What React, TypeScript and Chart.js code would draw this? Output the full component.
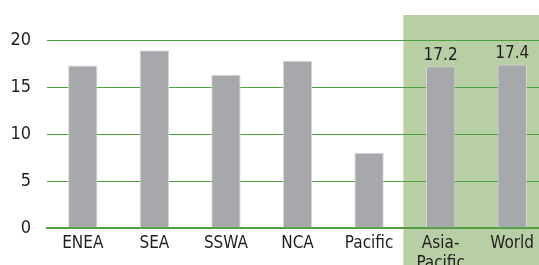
import React, { useEffect, useRef } from "react";
import { Chart, registerables } from "chart.js";

Chart.register(...registerables);

const categories: (string | string[])[] = ["ENEA", "SEA", "SSWA", "NCA", "Pacific", ["Asia-", "Pacific"], "World"];
const values: number[] = [17.3, 18.9, 16.3, 17.8, 8.0, 17.2, 17.4];
const valueLabels: string[] = ["", "", "", "", "", "17.2", "17.4"];
const yTicks: number[] = [0, 5, 10, 15, 20];
const highlightFrom = 5; // first highlighted category index

const FONT = "'DejaVu Sans Condensed', 'Liberation Sans Narrow', 'Liberation Sans', Arial, sans-serif";
const TEXT = "#231f20";
const GREEN = "#4f9e3f";

const shadePlugin = {
  id: "shade",
  beforeDraw(chart: any) {
    const { ctx, chartArea, scales } = chart;
    const x = scales.x;
    const left = (x.getPixelForTick(highlightFrom - 1) + x.getPixelForTick(highlightFrom)) / 2 - 1.5;
    ctx.save();
    ctx.fillStyle = "#b8cfa6";
    ctx.fillRect(left, chartArea.top - 25, chart.width - left, chart.height - (chartArea.top - 25));
    ctx.restore();
  },
};

const labelPlugin = {
  id: "valueLabels",
  afterDatasetsDraw(chart: any) {
    const { ctx } = chart;
    const meta = chart.getDatasetMeta(0);
    ctx.save();
    ctx.font = `17px ${FONT}`;
    ctx.fillStyle = TEXT;
    ctx.textAlign = "center";
    ctx.textBaseline = "middle";
    meta.data.forEach((bar: any, i: number) => {
      if (!valueLabels[i]) return;
      ctx.fillText(valueLabels[i], bar.x, bar.y - 11);
    });
    ctx.restore();
  },
};

export default function App() {
  const ref = useRef<HTMLCanvasElement | null>(null);
  useEffect(() => {
    document.body.style.margin = "0";
    document.body.style.overflow = "hidden";
    const chart = new Chart(ref.current!, {
      type: "bar",
      data: {
        labels: categories,
        datasets: [
          {
            data: values,
            backgroundColor: "#a7a8ac",
            borderColor: "#d6d6d9",
            borderWidth: 1,
            barPercentage: 0.41,
            categoryPercentage: 1,
          },
        ],
      },
      options: {
        responsive: false,
        animation: false,
        layout: { padding: { top: 40, left: 0, right: 0, bottom: 0 } },
        plugins: { legend: { display: false }, tooltip: { enabled: false } },
        scales: {
          x: {
            grid: { display: false, drawTicks: false },
            border: { display: true, color: GREEN, width: 2 },
            ticks: {
              color: TEXT,
              font: { family: FONT, size: 17, lineHeight: 1.15 },
              padding: 6,
              maxRotation: 0,
              autoSkip: false,
            },
            afterFit(scale: any) {
              scale.height = 37;
            },
          },
          y: {
            min: 0,
            max: 20,
            afterBuildTicks(scale: any) {
              scale.ticks = yTicks.map((v) => ({ value: v }));
            },
            grid: {
              color: GREEN,
              lineWidth: 1,
              drawTicks: false,
            },
            border: { display: false },
            ticks: {
              color: TEXT,
              font: { family: FONT, size: 18 },
              padding: 16,
            },
            afterFit(scale: any) {
              scale.width = 47;
            },
          },
        },
      },
      plugins: [shadePlugin, labelPlugin],
    });
    return () => chart.destroy();
  }, []);
  return <canvas ref={ref} width={548} height={265} style={{ display: "block" }} />;
}
